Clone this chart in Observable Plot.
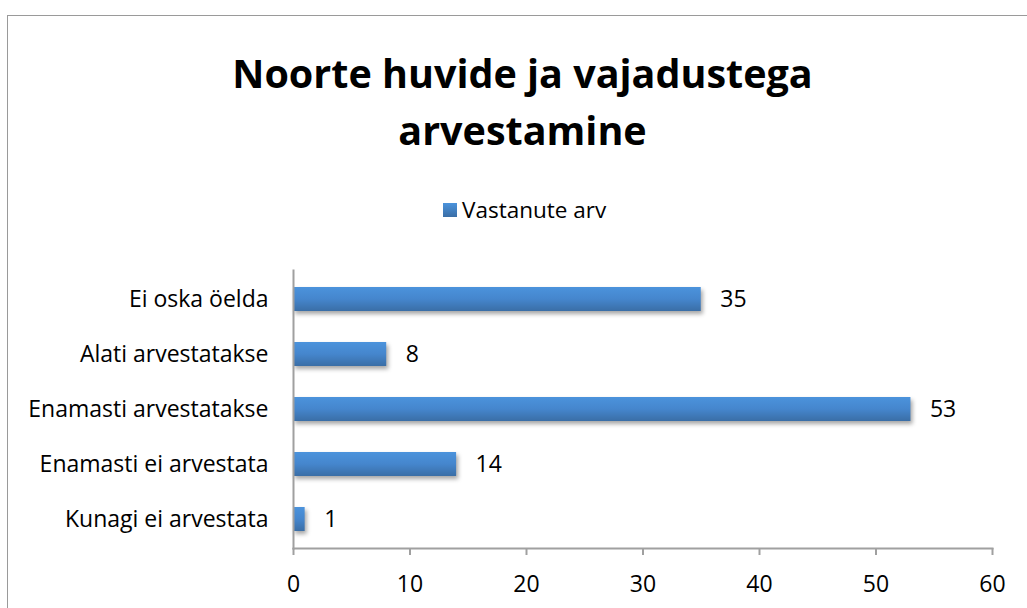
<!DOCTYPE html>
<html>
<head>
<meta charset="utf-8">
<script src="https://cdn.jsdelivr.net/npm/d3@7"></script>
<script src="https://cdn.jsdelivr.net/npm/@observablehq/plot@0.6"></script>
<style>
  html, body { margin: 0; padding: 0; background: #fff; }
  body { width: 1027px; height: 608px; overflow: hidden; position: relative; font-family: "Open Sans", sans-serif; }
  #frame { position: absolute; left: 7px; top: 15px; width: 1040px; height: 620px; border: 1.5px solid #9a9a9a; box-sizing: border-box; }
  #title { position: absolute; left: 0; width: 1045px; top: 45px; text-align: center; font-weight: 700; font-size: 39.5px; line-height: 57px; color: #000; }
  #legend { position: absolute; left: 443px; top: 194px; font-size: 22.5px; color: #000; display: flex; align-items: center; }
  #legend .sw { width: 14px; height: 14px; margin-right: 5px; background: linear-gradient(#4b93dc, #3a6ea6); }
  #chart { position: absolute; left: 0; top: 240px; }
  #chart g[aria-label="bar"] rect { filter: drop-shadow(2px 3px 2px rgba(0,0,0,0.35)); }
</style>
</head>
<body>
<div id="frame"></div>
<div id="title">Noorte huvide ja vajadustega<br>arvestamine</div>
<div id="legend"><div class="sw"></div><span>Vastanute arv</span></div>
<div id="chart"></div>
<script>
const categories = ["Ei oska öelda", "Alati arvestatakse", "Enamasti arvestatakse", "Enamasti ei arvestata", "Kunagi ei arvestata"];
const values = [35, 8, 53, 14, 1];
const xTicks = [0, 10, 20, 30, 40, 50, 60];

const data = categories.map((c, i) => ({category: c, value: values[i]}));

const plot = Plot.plot({
  width: 1027,
  height: 368,
  marginTop: 30,
  marginBottom: 60,
  marginLeft: 293,
  marginRight: 35,
  style: {fontFamily: "Open Sans, sans-serif", fontSize: "23px", color: "#000", background: "transparent"},
  x: {domain: [0, 60], ticks: xTicks, label: null},
  y: {domain: categories, paddingInner: 0.57, paddingOuter: 0.285, label: null},
  marks: [
    Plot.barX(data, {x: "value", y: "category", fill: "url(#barGrad)"}),
    Plot.text(data, {x: "value", y: "category", text: d => String(d.value), dx: 19, textAnchor: "start", fontSize: 23, fill: "#000"}),
    Plot.frame({anchor: "left", stroke: "#a0a0a0", strokeWidth: 2}),
    Plot.frame({anchor: "bottom", stroke: "#a0a0a0", strokeWidth: 2}),
    Plot.axisX({ticks: xTicks, tickSize: 7, tickPadding: 20, stroke: "#a0a0a0", strokeWidth: 2, fill: "#000", fontSize: 23, label: null}),
    Plot.axisY({tickSize: 0, tickPadding: 25, fill: "#000", fontSize: 23, label: null})
  ]
});

const defs = d3.select(plot).insert("defs", ":first-child");
const g = defs.append("linearGradient").attr("id", "barGrad").attr("x1", 0).attr("y1", 0).attr("x2", 0).attr("y2", 1);
g.append("stop").attr("offset", "0%").attr("stop-color", "#4b93dc");
g.append("stop").attr("offset", "50%").attr("stop-color", "#4586cd");
g.append("stop").attr("offset", "100%").attr("stop-color", "#3a6ea6");

document.getElementById("chart").appendChild(plot);
</script>
</body>
</html>
